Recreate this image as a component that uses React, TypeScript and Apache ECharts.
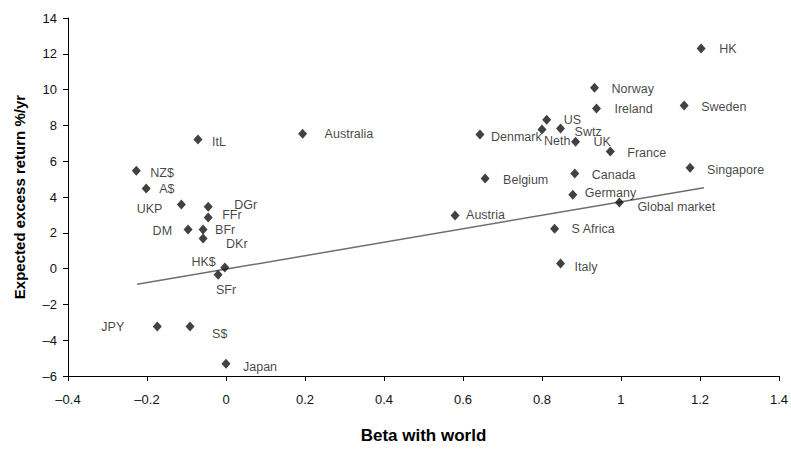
import React, { useEffect, useRef } from "react";
import * as echarts from "echarts";

const names = [
  "HK", "Norway", "Ireland", "Sweden", "US", "Denmark", "Neth", "Swtz", "UK", "France",
  "Canada", "Belgium", "Germany", "Global market", "Singapore", "Austria", "S Africa", "Italy",
  "Australia", "ItL", "NZ$", "A$", "UKP", "DGr", "FFr", "DM", "BFr", "DKr", "HK$", "SFr",
  "JPY", "S$", "Japan",
];
const betas = [
  1.203, 0.933, 0.938, 1.16, 0.812, 0.643, 0.8, 0.847, 0.885, 0.973,
  0.883, 0.656, 0.878, 0.996, 1.175, 0.58, 0.832, 0.847,
  0.194, -0.071, -0.227, -0.202, -0.113, -0.045, -0.045, -0.096, -0.058, -0.058, -0.003, -0.02,
  -0.174, -0.091, 0.0,
];
const returns = [
  12.29, 10.11, 8.94, 9.11, 8.32, 7.49, 7.77, 7.82, 7.09, 6.54,
  5.31, 5.03, 4.13, 3.69, 5.64, 2.96, 2.23, 0.28,
  7.54, 7.21, 5.47, 4.47, 3.58, 3.46, 2.85, 2.18, 2.18, 1.68, 0.06, -0.34,
  -3.24, -3.24, -5.31,
];
const fitBetas = [-0.225, 1.21];
const fitReturns = [-0.88, 4.52];

const xTicks = { min: -0.4, max: 1.4, interval: 0.2 };
const yTicks = { min: -6, max: 14, interval: 2 };

// label placement: [dx, dy, align]
const labelLayout: Record<string, [number, number, string]> = {
  HK: [18, 0, "left"],
  Norway: [17, 1, "left"],
  Ireland: [18, 0, "left"],
  Sweden: [17, 1, "left"],
  US: [17, 0, "left"],
  Denmark: [11, 2, "left"],
  Neth: [2, 11, "left"],
  Swtz: [14, 3, "left"],
  UK: [18, 0, "left"],
  France: [17, 1, "left"],
  Canada: [17, 1, "left"],
  Belgium: [18, 1, "left"],
  Germany: [12, -2, "left"],
  "Global market": [18, 4, "left"],
  Singapore: [17, 2, "left"],
  Austria: [11, -1, "left"],
  "S Africa": [17, 0, "left"],
  Italy: [14, 3, "left"],
  Australia: [22, 0, "left"],
  ItL: [14, 2, "left"],
  "NZ$": [14, 2, "left"],
  "A$": [13, 0, "left"],
  UKP: [-19, 4, "right"],
  DGr: [26, -2, "left"],
  FFr: [14, -3, "left"],
  DM: [-16, 1, "right"],
  BFr: [12, 0, "left"],
  DKr: [23, 5, "left"],
  "HK$": [-9, -6, "right"],
  SFr: [8, 15, "center"],
  JPY: [-33, 0, "right"],
  "S$": [22, 7, "left"],
  Japan: [17, 3, "left"],
};

const FONT = "'Liberation Sans', Arial, Helvetica, sans-serif";
const fmt = (v: number) => String(Math.round(v * 100) / 100).replace("-", "\u2013");

export default function App() {
  const ref = useRef<HTMLDivElement>(null);
  useEffect(() => {
    if (!ref.current) return;
    const chart = echarts.init(ref.current, undefined, { renderer: "svg" });
    const points = names.map((n, i) => {
      const l = labelLayout[n] || [14, 0, "left"];
      return {
        name: n,
        value: [betas[i], returns[i]],
        label: {
          show: true,
          position: "inside",
          offset: [l[0], l[1]],
          align: l[2],
          verticalAlign: "middle",
          formatter: n,
          color: "#111",
          fontSize: 12.5,
          fontFamily: FONT,
        },
      };
    });
    chart.setOption({
      animation: false,
      backgroundColor: "#fff",
      grid: { left: 68, right: 10, top: 18, bottom: 74 },
      xAxis: {
        type: "value",
        min: xTicks.min,
        max: xTicks.max,
        interval: xTicks.interval,
        name: "Beta with world",
        nameLocation: "middle",
        nameGap: 51,
        nameTextStyle: { fontSize: 17, fontWeight: "bold", color: "#000", fontFamily: FONT },
        axisLine: { onZero: false, lineStyle: { color: "#000", width: 1 } },
        axisTick: { show: true, length: 5, lineStyle: { color: "#000" } },
        axisLabel: { color: "#111", fontSize: 13, fontFamily: FONT, margin: 17, formatter: fmt },
        splitLine: { show: false },
      },
      yAxis: {
        type: "value",
        min: yTicks.min,
        max: yTicks.max,
        interval: yTicks.interval,
        name: "Expected excess return %/yr",
        nameLocation: "middle",
        nameGap: 41,
        nameTextStyle: { fontSize: 15, fontWeight: "bold", color: "#000", fontFamily: FONT },
        axisLine: { show: true, onZero: false, lineStyle: { color: "#000", width: 1 } },
        axisTick: { show: true, length: 5, lineStyle: { color: "#000" } },
        axisLabel: { color: "#111", fontSize: 13, fontFamily: FONT, margin: 11, formatter: fmt },
        splitLine: { show: false },
      },
      series: [
        {
          type: "line",
          data: fitBetas.map((b, i) => [b, fitReturns[i]]),
          symbol: "none",
          lineStyle: { color: "#6e6e6e", width: 1.5 },
          silent: true,
          z: 1,
        },
        {
          type: "scatter",
          symbol: "diamond",
          symbolSize: [9, 10],
          itemStyle: { color: "#111" },
          data: points,
          z: 2,
        },
      ],
    });
    return () => chart.dispose();
  }, []);
  return <div ref={ref} style={{ width: 791, height: 450, position: "absolute", left: 0, top: 0 }} />;
}
